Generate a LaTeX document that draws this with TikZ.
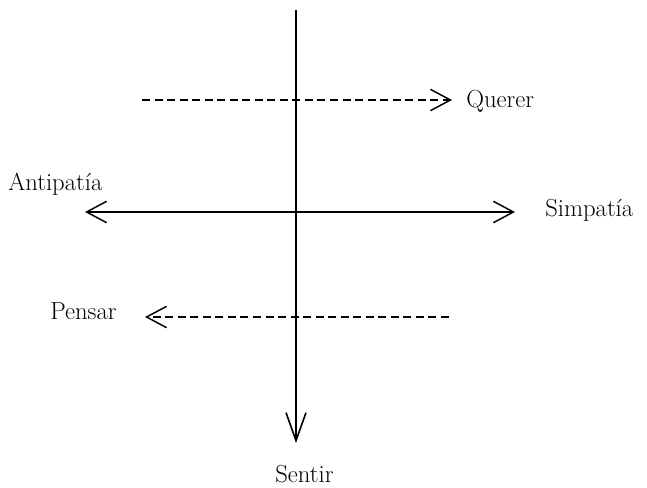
\documentclass[tikz,border=0pt]{standalone}
\usepackage{fontspec}
\usetikzlibrary{arrows.meta}

\begin{document}
\begin{tikzpicture}[x=0.75pt, y=-0.75pt,
    lbl/.style={font=\fontsize{18.5}{20}\selectfont, inner sep=0pt, anchor=base west},
    axis/.style={line width=1.2pt},
    tipv/.style={-{Straight Barb[length=21pt, width=15pt, line width=1.2pt]}},
    tiph/.style={{Straight Barb[length=15pt, width=16pt, line width=1.1pt]}-{Straight Barb[length=15pt, width=16pt, line width=1.1pt]}},
    flow/.style={line width=1.1pt, dash pattern=on 6pt off 3.4pt,
                 -{Straight Barb[length=15pt, width=16pt, line width=1.1pt]}}
  ]
  \useasboundingbox (0,0) rectangle (647,487);

  % labels
  \node[lbl] (antipatia) at (8,190)   {Antipat\'{\i}a};
  \node[lbl] (simpatia)  at (545,216) {Simpat\'{\i}a};
  \node[lbl] (querer)    at (466,107) {Querer};
  \node[lbl] (pensar)    at (50,319)  {Pensar};
  \node[lbl] (sentir)    at (275,482) {Sentir};

  % end points
  \coordinate (top)    at (296,10);
  \coordinate (bottom) at (296,443);
  \coordinate (left)   at (85,212);
  \coordinate (right)  at (515,212);
  \coordinate (qstart) at (142,100);
  \coordinate (qend)   at (452,100);
  \coordinate (pstart) at (449,317);
  \coordinate (pend)   at (145,317);

  % axes
  \draw[axis, line width=1.4pt, tipv] (top) -- (bottom);
  \draw[axis, tiph] (left) -- (right);

  % dashed arrows
  \draw[flow] (qstart) -- (qend);
  \draw[flow] (pstart) -- (pend);
\end{tikzpicture}
\end{document}
